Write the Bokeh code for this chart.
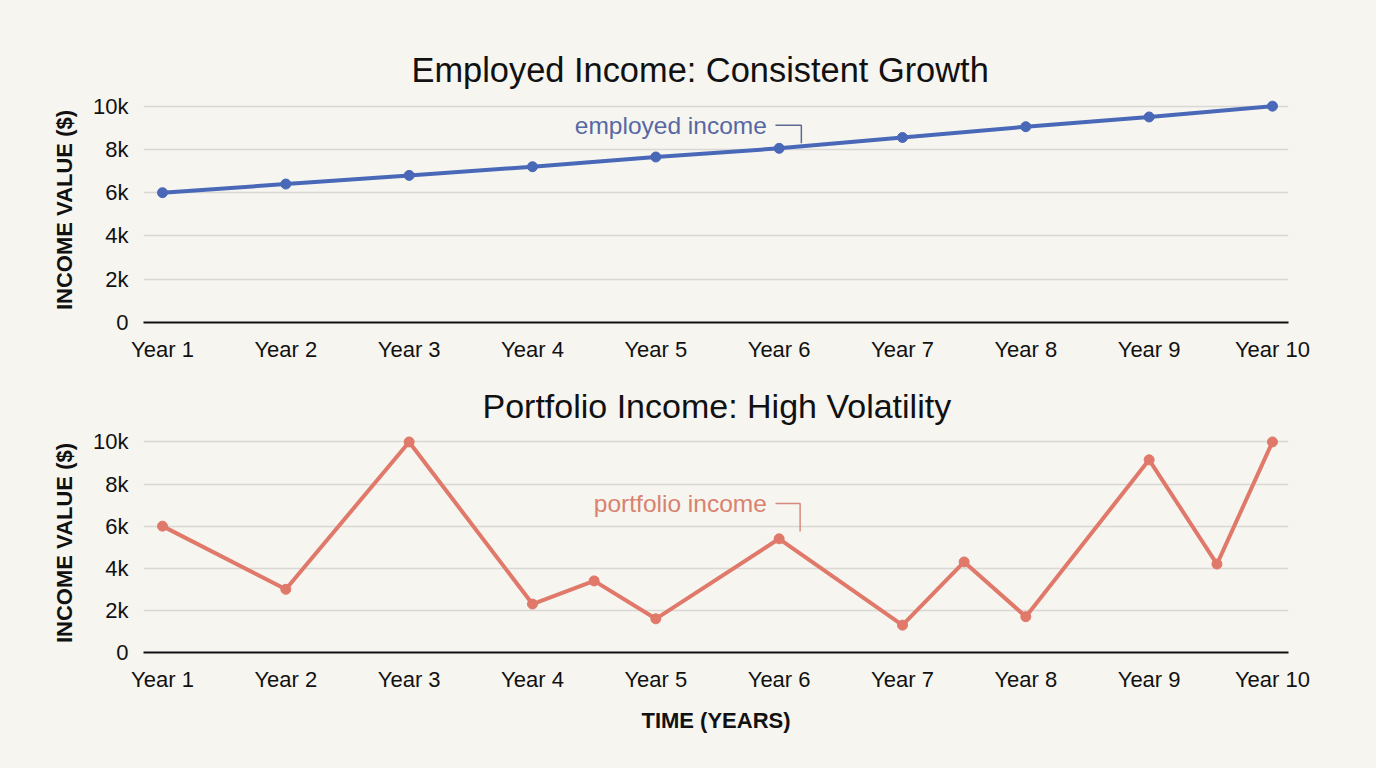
from bokeh.plotting import figure
from bokeh.layouts import column
from bokeh.models import FixedTicker, Label, ColumnDataSource, Title
from bokeh.embed import file_html
from bokeh.resources import INLINE

# ---- data ----
years = [1, 2, 3, 4, 5, 6, 7, 8, 9, 10]
year_labels = ["Year 1", "Year 2", "Year 3", "Year 4", "Year 5",
               "Year 6", "Year 7", "Year 8", "Year 9", "Year 10"]
employed_income = [6000, 6400, 6800, 7200, 7650, 8050, 8550, 9050, 9500, 10000]

portfolio_x = [1, 2, 3, 4, 4.5, 5, 6, 7, 7.5, 8, 9, 9.55, 10]
portfolio_income = [6000, 3000, 10000, 2300, 3400, 1600, 5400, 1300, 4300, 1700, 9150, 4200, 10000]

y_ticks = [0, 2000, 4000, 6000, 8000, 10000]
y_tick_labels = ["0", "2k", "4k", "6k", "8k", "10k"]

# ---- styles ----
BG = "#f6f5f0"
FONT = "Liberation Sans"
BLUE = "#4a68b8"
BLUE_TXT = "#5668a3"
BLUE_BRK = "#5c6a94"
CORAL = "#e0796a"
CORAL_TXT = "#d8826f"
CORAL_BRK = "#d58b7e"


def base_fig(height, top, bottom, show_xlabel, title, title_offset, title_size):
    p = figure(width=1376, height=height, output_backend="svg", toolbar_location=None,
               x_range=(0.846, 10.13), y_range=(0, 10400),
               min_border_left=143, min_border_right=88,
               min_border_top=top, min_border_bottom=bottom)
    p.title = Title(text=title, align="left", offset=title_offset,
                    text_font=FONT, text_font_size=title_size, text_font_style="normal",
                    text_color="#111111", standoff=18)
    p.background_fill_color = BG
    p.border_fill_color = BG
    p.outline_line_color = None
    p.xgrid.grid_line_color = None
    p.ygrid.grid_line_color = "#d9d8d2"
    p.ygrid.grid_line_width = 1.5
    p.xaxis.ticker = FixedTicker(ticks=years)
    p.xaxis.major_label_overrides = {y: l for y, l in zip(years, year_labels)}
    p.yaxis.ticker = FixedTicker(ticks=y_ticks)
    p.yaxis.major_label_overrides = {t: l for t, l in zip(y_ticks, y_tick_labels)}
    for ax in (p.xaxis, p.yaxis):
        ax.major_tick_line_color = None
        ax.minor_tick_line_color = None
        ax.major_label_text_font = FONT
        ax.major_label_text_font_size = "22px"
        ax.major_label_text_color = "#111111"
        ax.axis_label_text_font = FONT
        ax.axis_label_text_font_size = "22px"
        ax.axis_label_text_font_style = "bold"
        ax.axis_label_text_color = "#111111"
    p.xaxis.axis_line_color = "#111111"
    p.xaxis.axis_line_width = 2
    p.yaxis.axis_line_color = None
    p.xaxis.major_label_standoff = 8
    p.yaxis.major_label_standoff = 9
    p.yaxis.axis_label = "INCOME VALUE ($)"
    p.yaxis.axis_label_standoff = 13
    if show_xlabel:
        p.xaxis.axis_label = "TIME (YEARS)"
        p.xaxis.axis_label_standoff = 13
    return p


# ---- top chart ----
p1 = base_fig(370, 97, 48, False, "Employed Income: Consistent Growth", 268, "34.4px")
src1 = ColumnDataSource(dict(x=years, y=employed_income))
p1.line("x", "y", source=src1, line_color=BLUE, line_width=4)
p1.scatter("x", "y", source=src1, size=10, fill_color=BLUE, line_color=BLUE)
p1.add_layout(Label(x=5.9, y=9120, text="employed income", text_font=FONT,
                    text_font_size="24.5px", text_color=BLUE_TXT,
                    text_align="right", text_baseline="middle"))
p1.line([5.97, 6.18, 6.18], [9120, 9120, 8290], line_color=BLUE_BRK, line_width=1.5)

# ---- bottom chart ----
p2 = base_fig(398, 63, 116, True, "Portfolio Income: High Volatility", 339, "34px")
src2 = ColumnDataSource(dict(x=portfolio_x, y=portfolio_income))
p2.line("x", "y", source=src2, line_color=CORAL, line_width=4)
p2.scatter("x", "y", source=src2, size=10, fill_color=CORAL, line_color=CORAL)
p2.add_layout(Label(x=5.9, y=7070, text="portfolio income", text_font=FONT,
                    text_font_size="24.5px", text_color=CORAL_TXT,
                    text_align="right", text_baseline="middle"))
p2.line([5.97, 6.17, 6.17], [7070, 7070, 5750], line_color=CORAL_BRK, line_width=1.5)

layout = column(p1, p2, spacing=0)
layout.styles = {"background-color": BG}

open("out.html", "w").write(file_html(layout, INLINE))
